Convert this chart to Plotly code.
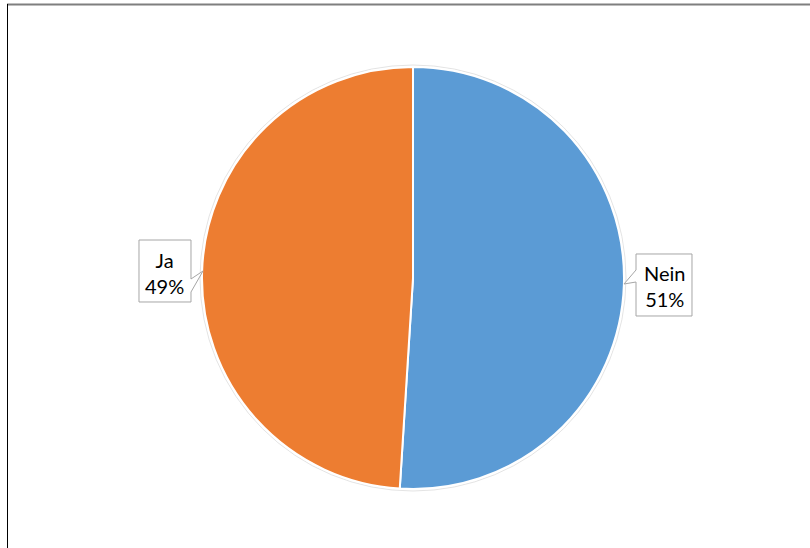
import plotly.graph_objects as go

# Data
categories = ["Nein", "Ja"]
values = [51, 49]
colors = ["#5B9BD5", "#ED7D31"]

W, H = 810, 548

def px(x):
    return x / W

def py(y):
    return 1 - y / H

fig = go.Figure()

# Pie geometry (pixels)
cx, cy, r = 413, 278, 211
fig.add_trace(go.Pie(
    labels=categories,
    values=values,
    sort=False,
    direction="clockwise",
    rotation=0,
    marker=dict(colors=colors, line=dict(color="white", width=2)),
    textinfo="none",
    hoverinfo="label+percent",
    showlegend=False,
    domain=dict(x=[px(cx - r), px(cx + r)], y=[py(cy + r), py(cy - r)]),
))

shapes = []
# faint outer ring
shapes.append(dict(type="circle", xref="paper", yref="paper",
                   x0=px(cx - r - 2), x1=px(cx + r + 2), y0=py(cy + r + 2), y1=py(cy - r - 2),
                   line=dict(color="#E4E4E4", width=1), layer="below"))
# chart frame lines
shapes.append(dict(type="line", xref="paper", yref="paper",
                   x0=px(7), x1=px(810), y0=py(4.5), y1=py(4.5),
                   line=dict(color="#7F7F7F", width=2)))
shapes.append(dict(type="line", xref="paper", yref="paper",
                   x0=px(7.5), x1=px(7.5), y0=py(4), y1=py(548),
                   line=dict(color="#000000", width=1)))

def callout(points):
    d = "M " + " L ".join(f"{px(x):.5f},{py(y):.5f}" for x, y in points) + " Z"
    return dict(type="path", xref="paper", yref="paper", path=d,
                fillcolor="white", line=dict(color="#A6A6A6", width=1), layer="above")

# Ja callout: box 139-191 x, 240-302 y, pointer to pie edge on right
shapes.append(callout([(139, 240), (191, 240), (191, 279), (203, 271), (191, 292),
                       (191, 302), (139, 302)]))
# Nein callout: box 636-692 x, 254-316 y, pointer to pie edge on left
shapes.append(callout([(636, 254), (692, 254), (692, 316), (636, 316), (636, 282),
                       (624, 284), (636, 270)]))

pct = [round(100 * v / sum(values)) for v in values]
label_pos = {"Ja": (164, 273), "Nein": (664, 286)}
annotations = []
for cat, p in zip(categories, pct):
    x, y = label_pos[cat]
    annotations.append(dict(xref="paper", yref="paper", x=px(x), y=py(y),
                            text=f"{cat}<br>{p}%", showarrow=False,
                            xanchor="center", yanchor="middle", align="center",
                            font=dict(family="Lato", size=20, color="#000000")))

fig.update_layout(
    width=W, height=H,
    margin=dict(l=0, r=0, t=0, b=0),
    paper_bgcolor="white", plot_bgcolor="white",
    shapes=shapes, annotations=annotations,
)

fig.write_html("out.html")
